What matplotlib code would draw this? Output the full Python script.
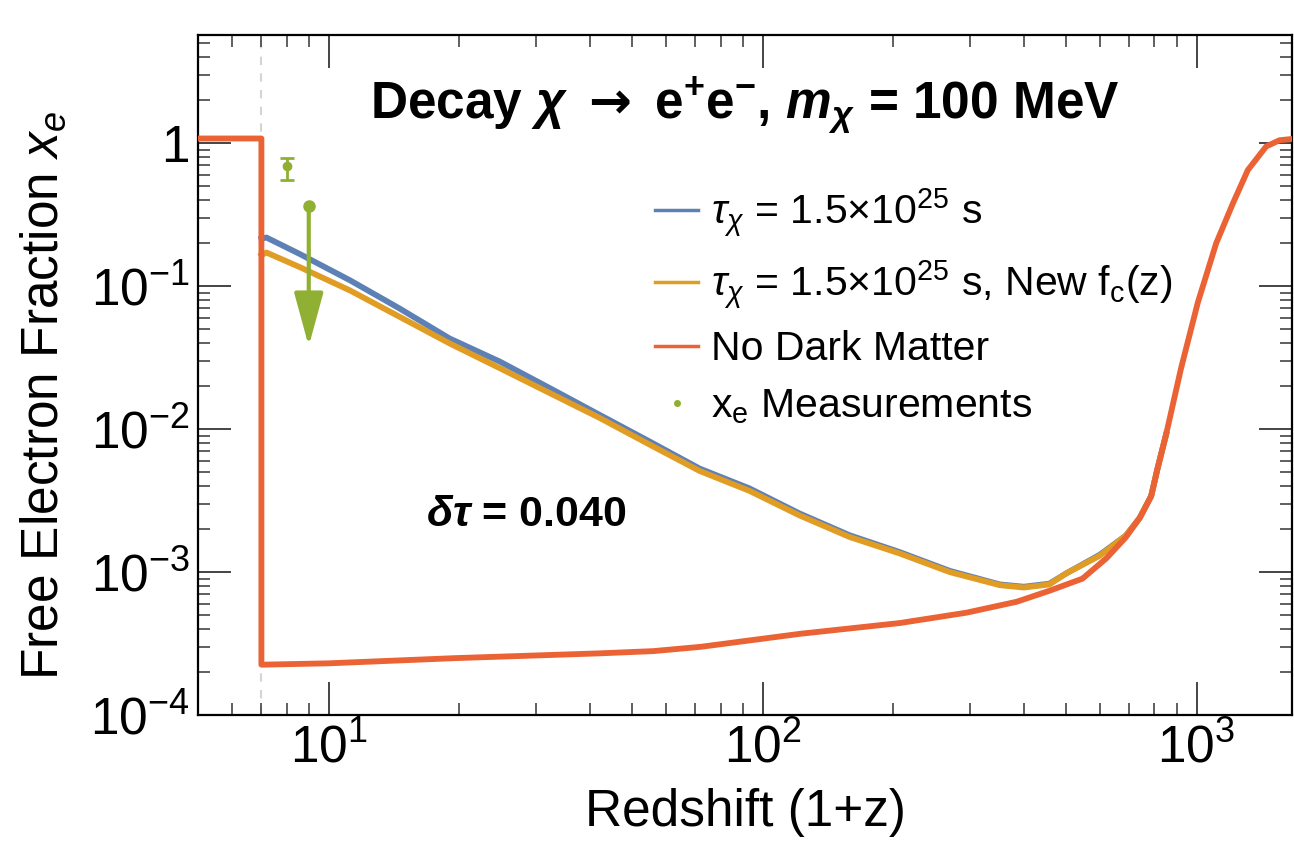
import matplotlib
matplotlib.use('Agg')
import matplotlib.pyplot as plt
from matplotlib.lines import Line2D
from matplotlib.ticker import FixedLocator, FuncFormatter, LogLocator, NullFormatter
import numpy as np

plt.rcParams['font.family'] = ['Liberation Sans', 'DejaVu Sans']
plt.rcParams['mathtext.fontset'] = 'custom'
plt.rcParams['mathtext.rm'] = 'Liberation Sans'
plt.rcParams['mathtext.it'] = 'Liberation Sans:italic'
plt.rcParams['mathtext.bf'] = 'Liberation Sans:bold'
plt.rcParams['mathtext.bfit'] = 'Liberation Sans:italic:bold'
plt.rcParams['mathtext.sf'] = 'DejaVu Sans:bold'   # heavier arrow glyph

# standard recombination history (no dark matter)
z_nodm = [5, 7.0, 7.0, 10, 19.5, 42, 56, 72, 122, 207, 295, 385, 458, 546, 620,
          687, 740, 786, 813, 851, 922, 1007, 1110, 1213, 1313, 1447, 1553, 1700]
xe_nodm = [1.08, 1.08, 2.25e-4, 2.3e-4, 2.5e-4, 2.7e-4, 2.8e-4, 3.0e-4, 3.7e-4,
           4.4e-4, 5.2e-4, 6.2e-4, 7.4e-4, 9.0e-4, 1.25e-3, 1.75e-3, 2.4e-3,
           3.4e-3, 5.3e-3, 9.2e-3, 0.027, 0.077, 0.20, 0.38, 0.65, 0.95, 1.05, 1.08]

# decaying DM, tau = 1.5e25 s, old and new f_c(z)
z_dm = [7.0, 7.19, 8.58, 11.2, 14.6, 19.0, 24.8, 32.3, 42.1, 54.9, 71.6, 93.3,
        121.7, 158.7, 207, 270, 352, 400, 458, 501, 598, 687, 740, 786, 813, 851]
xe_dm = [0.215, 0.219, 0.168, 0.110, 0.0696, 0.0431, 0.0297, 0.0194, 0.0126,
         0.0082, 0.0053, 0.00385, 0.00257, 0.00181, 0.00138, 0.00102, 8.2e-4,
         7.9e-4, 8.3e-4, 9.8e-4, 1.32e-3, 1.8e-3, 2.4e-3, 3.4e-3, 5.3e-3, 9.2e-3]
xe_dm_newfc = [0.165, 0.172, 0.136, 0.0934, 0.0609, 0.0398, 0.0267, 0.0179, 0.012,
               0.0078, 0.0051, 0.0037, 0.00249, 0.00176, 0.00135, 0.001, 8.1e-4,
               7.8e-4, 8.2e-4, 9.8e-4, 1.3e-3, 1.8e-3, 2.4e-3, 3.4e-3, 5.3e-3, 9.2e-3]

# x_e measurements: one point with error bar, one upper limit
meas_z = [8.0]
meas_xe = [0.69]
meas_lo = [0.55]
meas_hi = [0.79]
ulim_z = 9.0
ulim_xe = 0.365
ulim_tip = 0.038

reion_z = 7.0

blue = '#5E81B5'
orange = '#E19C24'
green = '#8FB032'
red = '#EB6235'

fig = plt.figure(figsize=(12.94, 8.59), dpi=100)
ax = fig.add_axes([0.153, 0.1676, 0.8455, 0.7914])

ax.axvline(reion_z, color='#d4d4d4', lw=1.5, dashes=(4, 4), zorder=1)
ax.plot(z_dm, xe_dm, color=blue, lw=4.2, zorder=2)
ax.plot(z_dm, xe_dm_newfc, color=orange, lw=4.2, zorder=3)
ax.plot(z_nodm, xe_nodm, color=red, lw=4.2, zorder=4)

yerr = [np.array(meas_xe) - np.array(meas_lo), np.array(meas_hi) - np.array(meas_xe)]
ax.errorbar(meas_z, meas_xe, yerr=yerr, fmt='o', color=green, ms=6,
            elinewidth=2, capsize=5, capthick=2, zorder=5)
ax.plot([ulim_z], [ulim_xe], 'o', color=green, ms=8, zorder=5)
ax.annotate('', xy=(ulim_z, ulim_tip), xytext=(ulim_z, ulim_xe),
            arrowprops=dict(arrowstyle='-|>,head_length=1.65,head_width=0.45',
                            color=green, lw=3, shrinkA=0, shrinkB=0,
                            mutation_scale=20), zorder=5)

ax.set_xscale('log')
ax.set_yscale('log')
ax.set_xlim(5, 1660)
ax.set_ylim(1e-4, 5.7)

ax.xaxis.set_major_locator(FixedLocator([10, 100, 1000]))
ax.xaxis.set_minor_locator(LogLocator(base=10, subs=np.arange(2, 10), numticks=20))
ax.xaxis.set_minor_formatter(NullFormatter())
ax.xaxis.set_major_formatter(FuncFormatter(lambda v, p: r'$10^{%d}$' % round(np.log10(v))))

ax.yaxis.set_major_locator(FixedLocator([1e-4, 1e-3, 1e-2, 1e-1, 1]))
ax.yaxis.set_minor_locator(LogLocator(base=10, subs=np.arange(2, 10), numticks=20))
ax.yaxis.set_minor_formatter(NullFormatter())
ax.yaxis.set_major_formatter(FuncFormatter(
    lambda v, p: '1' if abs(v - 1) < 1e-9 else r'$10^{%d}$' % round(np.log10(v))))

ax.tick_params(which='both', direction='in', top=True, right=True, color='#444444')
ax.tick_params(which='major', length=24, width=1.4, labelsize=37, pad=6)
ax.tick_params(which='minor', length=8.5, width=1.2)
for s in ax.spines.values():
    s.set_linewidth(1.6)

ax.set_xlabel('Redshift (1+z)', fontsize=37, labelpad=10)
ax.set_ylabel(r'Free Electron Fraction $x_e$', fontsize=37)
ax.yaxis.set_label_coords(-0.118, 0.47)

ax.text(0.5, 0.895,
        r'Decay $\mathbfit{\chi}$ $\mathsf{\rightarrow}$ $\mathbf{e^{+}e^{-}}$, $\mathbfit{m}_{\mathbfit{\chi}}$ = 100 MeV',
        transform=ax.transAxes, ha='center', va='center', fontsize=37, fontweight='bold')
ax.text(0.30, 0.294, r'$\mathbfit{\delta\tau}$ = 0.040', transform=ax.transAxes,
        ha='center', va='center', fontsize=31, fontweight='bold')

handles = [
    Line2D([], [], color=blue, lw=2.5),
    Line2D([], [], color=orange, lw=2.5),
    Line2D([], [], color=red, lw=2.5),
    Line2D([], [], color=green, marker='o', ms=4, lw=0),
]
labels = [
    r'$\tau_\chi$ = 1.5×10$^{25}$ s',
    r'$\tau_\chi$ = 1.5×10$^{25}$ s, New f$_\mathrm{c}$(z)',
    'No Dark Matter',
    r'x$_\mathrm{e}$ Measurements',
]
ax.legend(handles, labels, loc='upper left', bbox_to_anchor=(0.418, 0.778),
          frameon=False, fontsize=29.5, handlelength=1.05, handletextpad=0.3,
          labelspacing=0.47, borderpad=0, borderaxespad=0)

fig.savefig('out.png', dpi=100)
